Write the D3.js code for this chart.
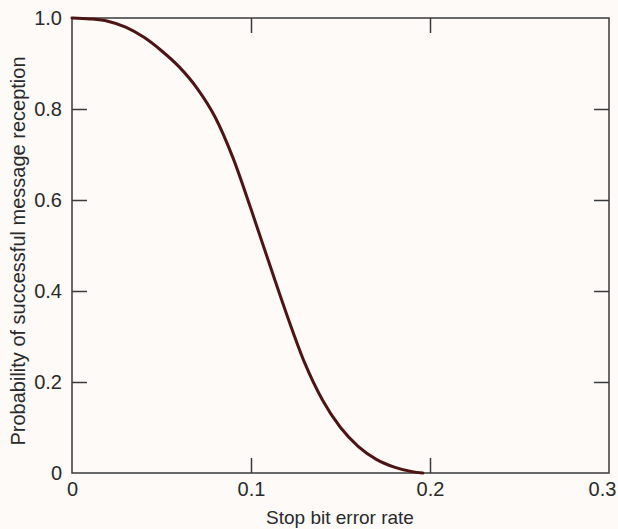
<!DOCTYPE html>
<html>
<head>
<meta charset="utf-8">
<script src="https://cdn.jsdelivr.net/npm/d3@7"></script>
<style>
  html, body { margin: 0; padding: 0; background: #fdfaf8; }
  svg { display: block; }
  text { font-family: "Liberation Sans", Arial, Helvetica, sans-serif; fill: #2a2a2a; }
</style>
</head>
<body>
<svg id="chart" width="618" height="529"></svg>
<script>
// Data
const errorRate = [0, 0.01, 0.02, 0.03, 0.04, 0.05, 0.06, 0.07, 0.08, 0.09, 0.10, 0.11, 0.12, 0.13, 0.14, 0.15, 0.16, 0.17, 0.18, 0.19, 0.196];
const probability = [1.0, 0.998, 0.993, 0.980, 0.958, 0.928, 0.892, 0.845, 0.782, 0.692, 0.580, 0.463, 0.348, 0.242, 0.160, 0.100, 0.058, 0.030, 0.013, 0.003, 0.0];
const xTicks = [0, 0.1, 0.2, 0.3];
const xTickLabels = ["0", "0.1", "0.2", "0.3"];
const yTicks = [0, 0.2, 0.4, 0.6, 0.8, 1.0];
const yTickLabels = ["0", "0.2", "0.4", "0.6", "0.8", "1.0"];
const xTitle = "Stop bit error rate";
const yTitle = "Probability of successful message reception";

const svg = d3.select("#chart");
const pLeft = 72, pTop = 18, pRight = 609, pBottom = 473;
const x = d3.scaleLinear().domain([0, 0.3]).range([pLeft, pRight]);
const y = d3.scaleLinear().domain([0, 1]).range([pBottom, pTop]);
const axisColor = "#3a3a3a";
const tickLen = 15;

// frame
svg.append("rect")
  .attr("x", pLeft).attr("y", pTop)
  .attr("width", pRight - pLeft).attr("height", pBottom - pTop)
  .attr("fill", "none").attr("stroke", axisColor).attr("stroke-width", 1.5);

// axes with inward ticks
const gBottom = svg.append("g").attr("transform", `translate(0,${pBottom})`)
  .call(d3.axisBottom(x).tickValues(xTicks).tickFormat((d, i) => xTickLabels[i]).tickSizeInner(-tickLen).tickSizeOuter(0).tickPadding(9));
const gTop = svg.append("g").attr("transform", `translate(0,${pTop})`)
  .call(d3.axisTop(x).tickValues(xTicks).tickFormat("").tickSizeInner(-tickLen).tickSizeOuter(0));
const gLeft = svg.append("g").attr("transform", `translate(${pLeft},0)`)
  .call(d3.axisLeft(y).tickValues(yTicks).tickFormat((d, i) => yTickLabels[i]).tickSizeInner(-tickLen).tickSizeOuter(0).tickPadding(10));
const gRight = svg.append("g").attr("transform", `translate(${pRight},0)`)
  .call(d3.axisRight(y).tickValues(yTicks).tickFormat("").tickSizeInner(-tickLen).tickSizeOuter(0));

[gBottom, gTop, gLeft, gRight].forEach(g => {
  g.select(".domain").remove();
  g.selectAll(".tick line").attr("stroke", axisColor).attr("stroke-width", 1.5);
  g.selectAll("text").attr("font-size", 20).attr("fill", "#2a2a2a")
    .attr("font-family", '"Liberation Sans", Arial, sans-serif');
});
// keep the last x label inside the page
gBottom.selectAll(".tick text").filter(d => d === 0.3).attr("dx", -7);
// remove ticks at frame edges (they coincide with the frame)
gBottom.selectAll(".tick line").filter(d => d === 0 || d === 0.3).remove();
gTop.selectAll(".tick line").filter(d => d === 0 || d === 0.3).remove();
gLeft.selectAll(".tick line").filter(d => d === 0 || d === 1).remove();
gRight.selectAll(".tick line").filter(d => d === 0 || d === 1).remove();

// curve
const pts = errorRate.map((v, i) => [v, probability[i]]);
svg.append("path")
  .datum(pts)
  .attr("fill", "none")
  .attr("stroke", "#4e1414")
  .attr("stroke-width", 3)
  .attr("stroke-linecap", "round")
  .attr("d", d3.line().x(d => x(d[0])).y(d => y(d[1])).curve(d3.curveMonotoneX));

// titles
svg.append("text")
  .attr("x", 340).attr("y", 524)
  .attr("text-anchor", "middle").attr("font-size", 19)
  .text(xTitle);
svg.append("text")
  .attr("transform", `translate(25,251) rotate(-90)`)
  .attr("text-anchor", "middle").attr("font-size", 20)
  .text(yTitle);
</script>
</body>
</html>
